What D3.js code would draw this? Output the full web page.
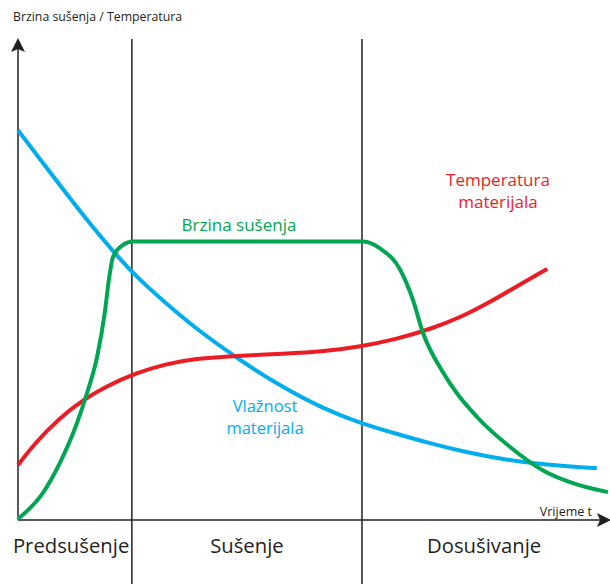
<!DOCTYPE html>
<html>
<head>
<meta charset="utf-8">
<script src="https://cdn.jsdelivr.net/npm/d3@7"></script>
<style>
  html, body { margin: 0; padding: 0; background: #fff; }
  svg { display: block; }
  text { font-family: "Open Sans", "Noto Sans", sans-serif; }
</style>
</head>
<body>
<svg id="chart" width="610" height="584"></svg>
<script>
// ---- data (time t in 0..100, value in 0..100) ----
const blueT = [0, 4, 8, 12, 16, 20, 25, 30, 37, 44, 52, 58, 64, 70, 76, 82, 88, 94, 98.1];
const blueV = [81.0, 74.5, 68.1, 61.8, 55.9, 50.5, 45.0, 39.8, 33.6, 28.0, 22.8, 20.0, 17.8, 15.7, 13.9, 12.5, 11.5, 10.9, 10.6];

const greenT = [0, 4.2, 7.1, 10.0, 11.7, 13.4, 14.7, 15.4, 16.1, 17.8, 19.5, 58.5, 61.5, 64.7, 66.9, 68.6, 72.0, 77.8, 83.4, 89.0, 94.7, 100];
const greenV = [0, 5.4, 11.7, 20.0, 26.25, 33.75, 42.9, 49.8, 54.6, 57.1, 57.8, 57.8, 56.25, 52.1, 45.8, 38.9, 30.6, 21.25, 15.0, 10.1, 7.2, 5.6];

const redT = [0, 3, 7, 11, 15, 20, 25, 30, 37, 45, 52, 58, 64, 70, 75, 80, 85, 89.7];
const redV = [11.25, 16.0, 21.0, 24.8, 27.7, 30.4, 32.3, 33.4, 34.0, 34.4, 34.9, 35.9, 37.4, 39.6, 42.0, 45.2, 48.8, 52.1];

const phaseBounds = [19.3, 58.3];
const phaseLabels = ["Predsušenje", "Sušenje", "Dosušivanje"];
const phaseLabelT = [9.0, 38.8, 79.0];

const yTitle = "Brzina sušenja / Temperatura";
const xTitle = "Vrijeme t";

// ---- layout ----
const svg = d3.select("#chart");
const x = d3.scaleLinear().domain([0, 100]).range([18, 608]);
const y = d3.scaleLinear().domain([0, 100]).range([519, 39]);
const ink = "#231f20";

// phase boundary lines
svg.selectAll("line.phase").data(phaseBounds).join("line")
  .attr("class", "phase")
  .attr("x1", d => x(d)).attr("x2", d => x(d))
  .attr("y1", y(100)).attr("y2", 584)
  .attr("stroke", ink).attr("stroke-width", 1.5);

// axes
svg.append("line")
  .attr("x1", x(0)).attr("x2", x(0))
  .attr("y1", y(0) + 0.5).attr("y2", y(100) + 8)
  .attr("stroke", ink).attr("stroke-width", 1.5);
svg.append("path")
  .attr("d", `M${x(0)},${y(100) - 1} L${x(0) - 7},${y(100) + 13} L${x(0)},${y(100) + 10} L${x(0) + 7},${y(100) + 13} Z`)
  .attr("fill", ink);
svg.append("line")
  .attr("x1", x(0)).attr("x2", 602)
  .attr("y1", y(0) + 1).attr("y2", y(0) + 1)
  .attr("stroke", ink).attr("stroke-width", 1.5);
svg.append("path")
  .attr("d", `M611,${y(0) + 1} L597,${y(0) - 6} L600,${y(0) + 1} L597,${y(0) + 8} Z`)
  .attr("fill", ink);

// curves
const smooth = d3.line().x(d => x(d[0])).y(d => y(d[1])).curve(d3.curveBasis);
const mono = d3.line().x(d => x(d[0])).y(d => y(d[1])).curve(d3.curveMonotoneX);
const series = [
  { t: blueT, v: blueV, color: "#00aeef", gen: smooth },
  { t: redT, v: redV, color: "#ed1c24", gen: smooth },
  { t: greenT, v: greenV, color: "#00a651", gen: mono }
];
series.forEach(s => {
  svg.append("path")
    .datum(s.t.map((t, i) => [t, s.v[i]]))
    .attr("d", s.gen)
    .attr("fill", "none")
    .attr("stroke", s.color)
    .attr("stroke-width", 4);
});

// texts
svg.append("text").attr("x", 13).attr("y", 21)
  .attr("font-size", 12.3).attr("fill", ink).text(yTitle);
svg.append("text").attr("x", 592).attr("y", 516).attr("text-anchor", "end")
  .attr("font-size", 12.5).attr("fill", ink).text(xTitle);

svg.selectAll("text.phaseLabel").data(phaseLabels).join("text")
  .attr("class", "phaseLabel")
  .attr("x", (d, i) => x(phaseLabelT[i]))
  .attr("y", 553)
  .attr("text-anchor", "middle")
  .attr("font-size", 20.3)
  .attr("fill", ink)
  .text(d => d);

svg.append("text").attr("x", 239).attr("y", 231).attr("text-anchor", "middle")
  .attr("font-size", 17).attr("fill", "#00a651").text("Brzina sušenja");

const blueLab = svg.append("text").attr("text-anchor", "middle")
  .attr("font-size", 16.5).attr("fill", "#00aeef");
blueLab.append("tspan").attr("x", 265).attr("y", 412).text("Vlažnost");
blueLab.append("tspan").attr("x", 265).attr("y", 434).text("materijala");

const redLab = svg.append("text").attr("text-anchor", "middle")
  .attr("font-size", 17).attr("fill", "#ed1c24");
redLab.append("tspan").attr("x", 498).attr("y", 186).text("Temperatura");
redLab.append("tspan").attr("x", 498).attr("y", 208).text("materijala");
</script>
</body>
</html>
